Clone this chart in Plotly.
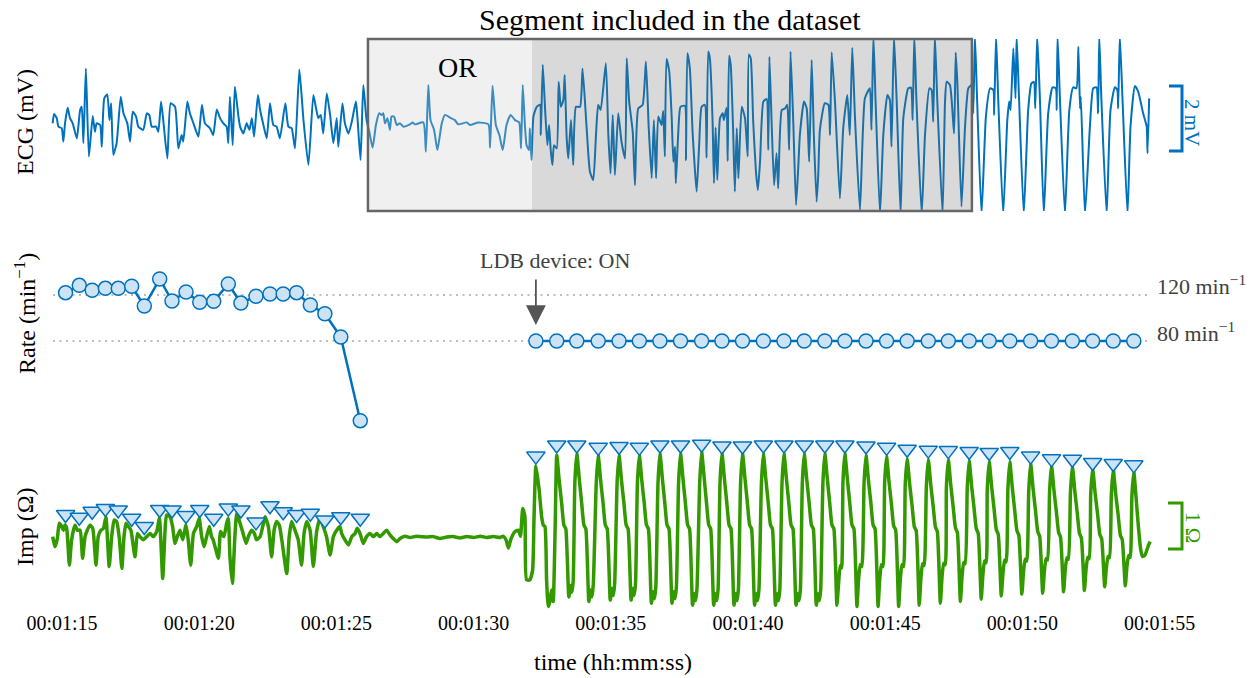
import plotly.graph_objects as go

# ------------------------------------------------------------------ data
tick_seconds = [75, 80, 85, 90, 95, 100, 105, 110, 115]
tick_labels = ["00:01:15", "00:01:20", "00:01:25", "00:01:30", "00:01:35",
               "00:01:40", "00:01:45", "00:01:50", "00:01:55"]

# ECG trace (seconds, mV)
ecg_t = [
    74.66, 74.71, 74.81, 74.87, 74.99, 75.05, 75.11, 75.21, 75.29, 75.39,
    75.54, 75.66, 75.72, 75.78, 75.87, 75.98, 76.12, 76.20, 76.26, 76.39,
    76.45, 76.54, 76.65, 76.73, 76.79, 76.87, 76.99, 77.14, 77.24, 77.38,
    77.48, 77.58, 77.70, 77.78, 77.96, 78.09, 78.18, 78.27, 78.43, 78.51,
    78.61, 78.69, 78.84, 78.96, 79.12, 79.24, 79.36, 79.42, 79.57, 79.66,
    79.79, 79.97, 80.10, 80.21, 80.39, 80.51, 80.64, 80.76, 80.88, 81.00,
    81.06, 81.12, 81.22, 81.30, 81.43, 81.49, 81.61, 81.73, 81.83, 81.92,
    82.00, 82.14, 82.22, 82.34, 82.46, 82.58, 82.70, 82.82, 82.94, 83.14,
    83.25, 83.37, 83.49, 83.65, 83.80, 83.98, 84.16, 84.26, 84.34, 84.43,
    84.52, 84.65, 84.77, 84.89, 85.01, 85.07, 85.22, 85.31, 85.44, 85.56,
    85.71, 85.76, 85.88, 85.98,
    86.10, 86.20, 86.32, 86.44, 86.56, 86.65, 86.71, 86.77, 86.86, 86.95,
    87.01, 87.10, 87.20, 87.32, 87.44, 87.68, 87.78, 87.86, 88.17, 88.26,
    88.35, 88.43, 88.56, 88.68, 88.84, 88.96, 89.14, 89.32, 89.44, 89.75,
    89.87, 90.17, 90.54, 90.60, 90.69, 90.81, 90.94, 91.06, 91.20, 91.35,
    91.51, 91.66, 91.73, 91.79, 91.87, 91.93, 92.02, 92.05, 92.11, 92.18,
    92.30, 92.42, 92.45, 92.52, 92.61, 92.69, 92.75, 92.81, 92.87, 92.93,
    93.03, 93.10, 93.18, 93.27, 93.32, 93.39, 93.45, 93.55, 93.63, 93.73,
    93.88, 93.97, 94.12, 94.24, 94.36, 94.46, 94.54, 94.63, 94.82, 94.91,
    94.99, 95.07, 95.15, 95.27, 95.39, 95.52, 95.58, 95.67, 95.80, 95.88,
    96.00, 96.16, 96.28, 96.38, 96.49, 96.57, 96.65, 96.73,
    96.85, 96.91, 96.97, 97.03, 97.13, 97.22, 97.28, 97.34, 97.37, 97.46,
    97.54, 97.70, 97.74, 97.79, 97.88, 97.98, 98.07, 98.13, 98.22, 98.31,
    98.43, 98.49, 98.55, 98.61, 98.71, 98.76, 98.82, 98.88, 98.98, 99.08,
    99.12, 99.22, 99.26, 99.31, 99.37, 99.46, 99.52, 99.59, 99.65, 99.77,
    99.89, 99.99, 100.03, 100.10, 100.19, 100.29, 100.36, 100.44, 100.56, 100.68,
    100.74, 100.78, 100.86, 100.95, 101.04, 101.10, 101.23, 101.35, 101.43, 101.50,
    101.55, 101.65, 101.75, 101.83, 101.89, 102.04, 102.14, 102.23, 102.32, 102.40,
    102.50, 102.56, 102.62, 102.80, 102.93, 102.99, 103.05, 103.17, 103.35, 103.47,
    103.62, 103.71, 103.80, 103.90, 104.08, 104.26, 104.44, 104.50, 104.57, 104.65,
    104.81, 104.93, 105.08, 105.17, 105.23, 105.32, 105.42, 105.56, 105.66, 105.84,
    105.94, 106.00, 106.06, 106.14, 106.33, 106.45, 106.61, 106.69, 106.75, 106.81,
    106.90, 107.09, 107.18, 107.24, 107.36,
    107.51, 107.57, 107.63, 107.78, 107.91, 108.03, 108.15, 108.21, 108.27, 108.35,
    108.51, 108.67, 108.82, 108.94, 108.97, 109.04, 109.12, 109.30, 109.45, 109.52,
    109.57, 109.67, 109.75, 109.79, 109.88, 110.05, 110.21, 110.33, 110.42, 110.47,
    110.54, 110.64, 110.78, 110.94, 111.10, 111.22, 111.25, 111.28, 111.37, 111.55,
    111.71, 111.85, 111.97, 112.04, 112.10, 112.13, 112.28, 112.46, 112.58, 112.70,
    112.76, 112.80, 112.88, 113.07, 113.21, 113.37, 113.46, 113.49, 113.55, 113.65,
    113.83, 113.94, 114.10, 114.22, 114.40, 114.53, 114.56, 114.62,
]
ecg_mv = [
    0.05, 0.34, 0.21, -0.05, -0.10, -0.51, 0.05, 0.53, 0.21, 0.05,
    -0.41, 0.46, 0.56, -0.56, 1.74, -0.97, 0.28, -0.21, 0.05, 0.00,
    -0.67, 0.82, 0.94, 0.15, 0.67, -0.92, -0.56, 0.87, 0.36, 0.05,
    -0.51, 0.41, 0.26, -0.05, -0.15, 0.36, 0.31, -0.05, -0.05, -0.21,
    0.72, 0.15, -1.03, 0.67, 0.56, -0.72, -0.31, -0.51, 0.72, 0.36,
    0.05, -0.36, 0.62, 0.05, -0.10, -0.31, 0.48, 0.21, 0.05, -0.05,
    -0.56, 0.87, -0.62, 1.18, 0.26, -0.05, -0.26, 0.05, -0.15, 0.21,
    -0.36, 0.92, 0.46, 0.00, -0.41, 0.67, 0.00, -0.05, -0.41, 0.67,
    -0.05, -0.10, -0.72, 1.71, 0.15, -1.23, 0.92, 0.51, 0.21, 0.31,
    -0.26, 0.97, 0.31, -0.56, 0.21, -0.67, 0.67, 0.05, -0.26, 0.10,
    0.72, 0.31, -1.08, 1.23,
    0.15, -0.21, -0.70, 0.00, 0.36, 0.31, 0.36, 0.05, 0.21, -0.15,
    0.26, 0.26, 0.00, 0.05, -0.05, 0.02, 0.08, 0.02, 0.08, -0.82,
    1.23, 0.15, -0.15, -0.77, 0.05, 0.31, 0.23, 0.15, 0.02, 0.08,
    0.00, 0.08, 0.02, -0.70, 1.21, 0.00, -0.31, -0.77, 0.00, 0.31,
    0.15, 0.08, -0.72, 1.23, 0.00, -0.62, -0.77, -0.10, -1.08, 0.26,
    0.56, 0.62, -0.31, 1.85, 0.41, -0.62, 0.00, -0.77, -1.23, -0.62,
    -0.72, 1.33, 0.56, 0.77, 1.54, -0.36, -1.03, 0.15, -1.23, 0.56,
    0.56, 1.74, -0.10, -1.44, -1.69, -0.31, 0.62, 0.46, 1.90, -0.31,
    -1.49, 0.31, -1.54, 0.36, -0.51, -1.03, 2.05, 0.72, -0.21, -1.85,
    0.51, 0.62, 1.95, -0.05, -1.64, 0.15, -1.64, 0.26,
    0.00, 0.43, -0.97, 2.03, 1.64, 0.21, -1.13, -0.67, -1.79, -0.21,
    0.56, 0.59, -1.08, 2.21, 1.74, -0.21, -1.44, -2.05, -0.62, 0.56,
    0.62, -1.01, 2.26, 2.05, 0.10, -1.79, -0.08, -1.69, 0.21, 0.36,
    0.15, 0.53, -1.11, 2.13, 1.85, -0.21, -2.05, -0.10, -1.64, 0.56,
    0.21, -0.97, 2.17, 2.05, 0.10, -1.44, -2.00, -1.11, 0.72, 0.80,
    -0.77, 2.10, 0.10, -1.85, -0.87, -1.95, 0.46, 0.51, 0.62, -0.77,
    2.26, 0.10, -2.46, -1.33, -0.31, 0.72, 0.51, -1.13, 2.00, -0.31,
    -2.36, -1.54, -0.15, 0.67, 0.62, -0.31, 2.24, 0.72, -2.26, -0.10,
    0.92, -0.31, 2.38, 0.21, -2.62, 0.82, 1.13, -0.15, 2.75, 0.72,
    -2.75, -0.31, 0.92, 0.77, -0.67, 2.75, 0.72, -2.75, 0.21, 1.13,
    1.15, 0.15, 2.75, 0.72, -2.75, -0.31, 1.13, 1.08, 0.10, 2.75,
    0.72, -2.75, 0.72, 1.33, 1.23,
    -0.26, 2.23, 1.28, -2.51, -0.05, 1.13, 1.23, 0.36, 2.75, 0.77,
    -2.75, 0.26, 1.13, 1.08, 0.31, 2.75, 0.77, -2.75, 0.15, 0.72,
    0.46, 2.36, 0.82, 2.75, 0.77, -2.75, 0.46, 1.28, 1.33, 0.51,
    2.75, 0.77, -2.75, 0.36, 1.16, 1.13, 0.46, 2.75, 0.77, -2.75,
    0.46, 1.16, 1.13, 2.41, 0.51, 0.87, -2.75, -0.05, 1.13, 1.16,
    0.36, 2.75, 0.77, -2.75, 0.46, 1.16, 1.08, 0.51, 2.75, 0.77,
    -2.75, -0.05, 1.20, 1.03, 0.36, -0.05, -0.87, 0.82,
]

# Detected beats before the OR (heart rate, min^-1) and paced beats after LDB on
beat_t_pre = [75.13, 75.63, 76.10, 76.58, 77.05, 77.54, 78.00, 78.56, 79.01, 79.52,
              80.02, 80.53, 81.06, 81.52, 82.07, 82.58, 83.06, 83.55, 84.05, 84.58,
              85.16, 85.87]
rate_pre = [122.0, 128.4, 124.1, 125.8, 125.8, 127.6, 110.4, 133.9, 114.8, 122.6,
            113.7, 114.5, 129.6, 113.0, 118.9, 120.9, 120.9, 122.0, 111.3, 103.7,
            83.5, 10.7]
beat_t_paced = [92.27, 93.03, 93.76, 94.54, 95.30, 96.04, 96.79, 97.54, 98.31, 99.05,
                99.80, 100.56, 101.31, 102.05, 102.80, 103.53, 104.30, 105.05, 105.80, 106.57,
                107.30, 108.06, 108.79, 109.54, 110.30, 111.06, 111.82, 112.56, 113.31, 114.06]
rate_paced = [80, 80, 80, 80, 80, 80, 80, 80, 80, 80,
              80, 80, 80, 80, 80, 80, 80, 80, 80, 80,
              80, 80, 80, 80, 80, 80, 80, 80, 80, 80]
rate_ref_lines = [120, 80]

# Impedance trace (seconds, ohm)
imp_t = [
    74.66, 74.75, 74.83, 74.90, 74.99, 75.05, 75.11, 75.17, 75.27, 75.35,
    75.47, 75.56, 75.66, 75.75, 75.84, 75.92, 76.02, 76.12, 76.24, 76.32,
    76.42, 76.51, 76.60, 76.72, 76.81, 76.90, 76.99, 77.09, 77.18, 77.26,
    77.33, 77.42, 77.51, 77.66, 77.75, 77.84, 77.96, 78.09, 78.21, 78.33,
    78.45, 78.55, 78.67, 78.75, 78.81, 78.94, 79.03, 79.12, 79.20, 79.30,
    79.40, 79.52, 79.60, 79.69, 79.79, 79.91, 80.00, 80.09, 80.18, 80.27,
    80.37, 80.45, 80.51, 80.70, 80.78, 80.90, 81.00, 81.06, 81.12, 81.21,
    81.30, 81.37, 81.49, 81.58, 81.71, 81.79, 81.91, 82.01, 82.09, 82.22,
    82.34, 82.40, 82.52, 82.64, 82.73, 82.82, 82.92, 83.01, 83.19, 83.28,
    83.37, 83.49, 83.61, 83.73, 83.82, 83.92, 84.04, 84.16, 84.28, 84.40,
    84.52, 84.64, 84.77, 84.89, 85.01, 85.13, 85.19, 85.31, 85.44, 85.56,
    85.68, 85.76, 85.86, 85.98, 86.10, 86.22, 86.35, 86.47, 86.59, 86.71,
    86.83, 86.95, 87.07, 87.20, 87.32, 87.50, 87.68, 87.92, 88.30, 88.53,
    88.77, 89.02, 89.26, 89.50, 89.75, 90.00, 90.24, 90.48, 90.72, 90.96,
    91.08, 91.18, 91.27, 91.35, 91.51, 91.63, 91.71, 91.79, 91.87, 91.93,
    92.05, 92.15, 92.20, 92.27, 92.39, 92.48, 92.54, 92.60, 92.66, 92.72,
    92.78, 92.84, 92.90, 92.97,
    93.03, 93.12, 93.21, 93.29, 93.36, 93.47, 93.53, 93.58, 93.63, 93.69,
    93.76, 93.85, 93.94, 94.02, 94.09, 94.20, 94.26, 94.31, 94.36, 94.47,
    94.54, 94.63, 94.72, 94.80, 94.87, 94.98, 95.04, 95.09, 95.14, 95.23,
    95.30, 95.39, 95.48, 95.56, 95.63, 95.74, 95.80, 95.85, 95.90, 95.97,
    96.04, 96.13, 96.22, 96.30, 96.37, 96.48, 96.54, 96.59, 96.64, 96.72,
    96.79, 96.88, 96.97, 97.05, 97.12, 97.23, 97.29, 97.34, 97.39, 97.47,
    97.54, 97.63, 97.72, 97.80, 97.87, 97.98, 98.04, 98.09, 98.14, 98.24,
    98.31, 98.40, 98.49, 98.57, 98.64, 98.75, 98.81, 98.86, 98.91, 98.98,
    99.05, 99.14, 99.23, 99.31, 99.38, 99.49, 99.55, 99.60, 99.65, 99.73,
    99.80, 99.89, 99.98, 100.06, 100.13, 100.24, 100.30, 100.35, 100.40, 100.49,
    100.56, 100.65, 100.74, 100.82, 100.89, 101.00, 101.06, 101.11, 101.16, 101.24,
    101.31, 101.40, 101.49, 101.57, 101.64, 101.75, 101.81, 101.86, 101.91, 101.98,
    102.05, 102.14, 102.23, 102.31, 102.38, 102.49, 102.55, 102.60, 102.65, 102.73,
    102.80, 102.89, 102.98, 103.06, 103.13, 103.24, 103.30, 103.36, 103.41, 103.46,
    103.53, 103.62, 103.71, 103.79, 103.86, 103.97, 104.03, 104.09, 104.15, 104.23,
    104.30, 104.39, 104.48, 104.56, 104.63, 104.74, 104.80, 104.86, 104.92, 104.98,
    105.05, 105.14, 105.23, 105.31, 105.38, 105.49, 105.55, 105.61, 105.67, 105.73,
    105.80, 105.89, 105.98, 106.06, 106.13, 106.24, 106.30, 106.36, 106.42, 106.50,
    106.57, 106.66, 106.75, 106.83, 106.90, 107.01, 107.07, 107.13, 107.19, 107.23,
    107.30, 107.39, 107.48, 107.56, 107.63, 107.74, 107.80, 107.86, 107.92, 107.99,
    108.06, 108.15, 108.24, 108.32, 108.39, 108.50, 108.56, 108.62, 108.68, 108.72,
    108.79, 108.88, 108.97, 109.05, 109.12, 109.23, 109.29, 109.35, 109.41, 109.47,
    109.54, 109.63, 109.72, 109.80, 109.87, 109.98, 110.04, 110.10, 110.16, 110.23,
    110.30, 110.39, 110.48, 110.56, 110.63, 110.74, 110.80, 110.86, 110.92, 110.99,
    111.06, 111.15, 111.24, 111.32, 111.39, 111.50, 111.56, 111.62, 111.68, 111.75,
    111.82, 111.91, 112.00, 112.08, 112.15, 112.26, 112.32, 112.38, 112.44, 112.49,
    112.56, 112.65, 112.74, 112.82, 112.89, 113.00, 113.06, 113.12, 113.18, 113.24,
    113.31, 113.40, 113.49, 113.57, 113.64, 113.75, 113.81, 113.87, 113.93, 113.99,
    114.06, 114.14, 114.22, 114.30, 114.37, 114.46, 114.60, 114.66,
]
imp_ohm = [
    0.03, -0.19, -0.01, 0.32, 0.25, 0.17, 0.28, 0.21, -0.59, -0.04,
    0.28, 0.17, 0.17, -0.44, 0.03, 0.17, 0.28, 0.21, -0.59, 0.03,
    0.17, 0.21, 0.45, -0.62, 0.03, 0.39, 0.36, -0.01, -0.66, 0.03,
    0.32, 0.25, 0.17, -0.41, 0.10, 0.03, -0.04, 0.03, 0.10, 0.03,
    0.14, 0.43, -0.88, 0.10, 0.50, 0.46, 0.25, -0.12, 0.03, 0.17,
    -0.04, 0.28, -0.04, -0.59, 0.10, 0.25, 0.43, 0.03, -0.19, 0.03,
    0.25, 0.03, -0.04, -0.44, 0.14, 0.03, 0.32, 0.43, -0.41, -0.99,
    0.03, 0.54, 0.32, 0.14, -0.12, 0.03, 0.17, 0.10, -0.04, 0.03,
    0.32, 0.46, 0.25, -0.41, 0.17, 0.36, 0.28, -0.04, -0.77, 0.03,
    0.36, 0.17, -0.04, -0.59, 0.10, 0.36, 0.17, -0.62, 0.14, 0.43,
    0.25, 0.03, -0.37, 0.03, 0.17, 0.25, 0.10, -0.04, -0.15, 0.03,
    0.10, 0.21, 0.10, -0.12, 0.03, 0.10, 0.03, 0.10, 0.03, 0.10,
    0.17, 0.07, -0.01, -0.08, -0.01, 0.04, 0.01, 0.04, 0.02, 0.03,
    -0.01, 0.02, 0.03, 0.00, 0.03, 0.01, 0.04, 0.01, 0.03, 0.01,
    0.04, -0.04, -0.22, -0.04, 0.14, 0.17, 0.04, 0.64, 0.46, -0.91,
    -0.91, -0.70, 0.39, 1.57, 1.04, 0.46, 0.28, 0.25, -0.91, -1.49,
    -1.38, -1.13, -1.38, 0.17,
    1.80, 1.25, 0.75, 0.28, 0.20, -1.28, -1.03, -1.18, -0.93, 1.20,
    1.84, 1.29, 0.75, 0.28, 0.20, -1.38, -1.13, -1.28, -1.03, 1.20,
    1.80, 1.25, 0.75, 0.28, 0.20, -1.35, -1.10, -1.25, -1.00, 1.20,
    1.80, 1.25, 0.75, 0.28, 0.20, -1.35, -1.10, -1.25, -1.00, 1.20,
    1.80, 1.25, 0.75, 0.28, 0.20, -1.42, -1.17, -1.32, -1.07, 1.20,
    1.84, 1.29, 0.75, 0.28, 0.20, -1.42, -1.17, -1.32, -1.07, 1.20,
    1.84, 1.29, 0.75, 0.28, 0.20, -1.46, -1.21, -1.36, -1.11, 1.20,
    1.88, 1.33, 0.75, 0.28, 0.20, -1.46, -1.21, -1.36, -1.11, 1.20,
    1.84, 1.29, 0.75, 0.28, 0.20, -1.46, -1.21, -1.36, -1.11, 1.20,
    1.84, 1.29, 0.75, 0.28, 0.20, -1.46, -1.21, -1.36, -1.11, 1.20,
    1.83, 1.28, 0.75, 0.28, 0.20, -1.46, -1.21, -1.36, -1.11, 1.20,
    1.84, 1.29, 0.75, 0.28, 0.20, -1.46, -1.21, -1.36, -1.11, 1.20,
    1.83, 1.28, 0.75, 0.28, 0.20, -1.46, -1.21, -1.36, -1.11, 1.20,
    1.84, 1.29, 0.75, 0.28, 0.20, -1.46, -1.00, -0.60, -0.65, 1.20,
    1.84, 1.29, 0.75, 0.28, 0.20, -1.49, -0.90, -0.58, -0.62, 1.20,
    1.80, 1.25, 0.75, 0.28, 0.20, -1.49, -0.90, -0.58, -0.62, 1.20,
    1.77, 1.22, 0.72, 0.26, 0.18, -1.49, -0.90, -0.58, -0.62, 1.15,
    1.73, 1.18, 0.70, 0.25, 0.16, -1.46, -0.88, -0.56, -0.60, 1.12,
    1.71, 1.16, 0.68, 0.24, 0.14, -1.42, -0.86, -0.55, -0.58, 1.10,
    1.70, 1.15, 0.66, 0.22, 0.12, -1.38, -0.84, -0.53, -0.56, 1.08,
    1.68, 1.13, 0.64, 0.20, 0.10, -1.33, -0.80, -0.50, -0.54, 1.06,
    1.66, 1.11, 0.62, 0.18, 0.08, -1.26, -0.78, -0.48, -0.52, 1.04,
    1.66, 1.11, 0.60, 0.16, 0.06, -1.22, -0.75, -0.46, -0.50, 1.02,
    1.62, 1.07, 0.58, 0.14, 0.04, -1.20, -0.73, -0.45, -0.48, 1.00,
    1.59, 1.04, 0.56, 0.12, 0.02, -1.17, -0.70, -0.43, -0.46, 0.98,
    1.57, 1.02, 0.54, 0.10, 0.00, -1.14, -0.68, -0.42, -0.45, 0.95,
    1.51, 0.98, 0.52, 0.08, -0.02, -1.06, -0.65, -0.40, -0.43, 0.92,
    1.49, 0.96, 0.50, 0.06, -0.04, -1.04, -0.62, -0.38, -0.42, 0.90,
    1.44, 0.90, 0.30, -0.20, -0.40, -0.38, -0.15, -0.08,
]

# Beat markers drawn on the impedance panel (ohm)
imp_mark_pre = [0.51, 0.45, 0.58, 0.64, 0.61, 0.43, 0.25, 0.62, 0.61, 0.49,
                0.62, 0.43, 0.65, 0.61, 0.35, 0.70, 0.57, 0.51, 0.54, 0.39,
                0.46, 0.43]
imp_mark_paced = [1.78, 2.02, 2.02, 1.97, 1.99, 1.97, 2.02, 2.02, 2.04, 2.00,
                  2.00, 2.02, 2.02, 2.02, 2.02, 2.02, 2.00, 1.97, 1.93, 1.91,
                  1.90, 1.88, 1.86, 1.88, 1.78, 1.72, 1.71, 1.64, 1.62, 1.59]

# Segment boundaries (seconds)
seg_start, ldb_on, seg_end = 86.15, 92.13, 108.16

# ------------------------------------------------------------------ style
W, H = 1260, 678
FONT = "Liberation Serif"
BLUE = "#0072BD"
GREEN = "#339900"
LIGHT = "#CCE3F5"


def py(p):
    return 1 - p / H


def px(p):
    return p / W


fig = go.Figure()

fig.add_trace(go.Scatter(x=ecg_t, y=ecg_mv, mode="lines",
                         line=dict(color=BLUE, width=2, shape="spline", smoothing=0.5),
                         xaxis="x", yaxis="y", hoverinfo="skip"))

for tt, rr in ((beat_t_pre, rate_pre), (beat_t_paced, rate_paced)):
    fig.add_trace(go.Scatter(x=tt, y=rr, mode="lines+markers", xaxis="x", yaxis="y2",
                             line=dict(color=BLUE, width=2.5),
                             marker=dict(symbol="circle", size=14, color=LIGHT,
                                         line=dict(color=BLUE, width=1.5)),
                             cliponaxis=False))

fig.add_trace(go.Scatter(x=imp_t, y=imp_ohm, mode="lines", xaxis="x", yaxis="y3",
                         line=dict(color=GREEN, width=3.5, shape="spline", smoothing=0.5)))

for tt, mm in ((beat_t_pre, imp_mark_pre), (beat_t_paced, imp_mark_paced)):
    fig.add_trace(go.Scatter(x=tt, y=mm, mode="markers", xaxis="x", yaxis="y3",
                             marker=dict(symbol="triangle-down", size=16, color=LIGHT,
                                         line=dict(color=BLUE, width=1.5)),
                             cliponaxis=False))

shapes = [
    dict(type="rect", xref="x", yref="y domain", x0=seg_start, x1=ldb_on, y0=0, y1=1,
         fillcolor="rgb(203,203,203)", opacity=0.29, line=dict(width=0), layer="above"),
    dict(type="rect", xref="x", yref="y domain", x0=ldb_on, x1=seg_end, y0=0, y1=1,
         fillcolor="rgb(110,110,110)", opacity=0.26, line=dict(width=0), layer="above"),
    dict(type="rect", xref="x", yref="y domain", x0=seg_start, x1=seg_end, y0=0, y1=1,
         fillcolor="rgba(0,0,0,0)", line=dict(color="#666666", width=2.5), layer="above"),
    # 2 mV scale bar
    dict(type="path", xref="paper", yref="y",
         path=f"M {px(1169)},1.2 L {px(1182)},1.2 L {px(1182)},-0.8 L {px(1169)},-0.8",
         line=dict(color=BLUE, width=3)),
    # 1 ohm scale bar
    dict(type="path", xref="paper", yref="y3",
         path=f"M {px(1168)},0.76 L {px(1182)},0.76 L {px(1182)},-0.24 L {px(1168)},-0.24",
         line=dict(color=GREEN, width=3)),
]
for r in rate_ref_lines:
    shapes.append(dict(type="line", xref="paper", yref="y2", x0=px(53), x1=px(1150),
                       y0=r, y1=r, line=dict(color="#A8A8A8", width=1.5, dash="2px,4.5px"),
                       layer="below"))

annotations = [
    dict(text="Segment included in the dataset", x=px(670), y=py(20), size=30),
    dict(text="OR", x=px(457), y=py(68), size=28),
    dict(text="ECG (mV)", x=px(25), y=py(122), size=24, textangle=-90),
    dict(text="Rate (min<sup>−1</sup>)", x=px(25), y=py(314), size=24, textangle=-90),
    dict(text="Imp (Ω)", x=px(25), y=py(527), size=24, textangle=-90),
    dict(text="time (hh:mm:ss)", x=px(613), y=py(662), size=24),
    dict(text="LDB device: ON", x=px(555), y=py(260), size=22, color="#404040"),
    dict(text="2 mV", x=px(1192), y=py(122), size=21, color=BLUE, textangle=90),
    dict(text="1 Ω", x=px(1193), y=py(527), size=21, color=GREEN, textangle=90),
]
ann = []
for a in annotations:
    ann.append(dict(text=a["text"], x=a["x"], y=a["y"], xref="paper", yref="paper",
                    xanchor="center", yanchor="middle", showarrow=False,
                    textangle=a.get("textangle", 0),
                    font=dict(family=FONT, size=a["size"], color=a.get("color", "#000000"))))
for r, yy in zip(rate_ref_lines, (285, 332)):
    ann.append(dict(text=f"{r} min<sup>−1</sup>", x=px(1155), y=py(yy), xref="paper",
                    yref="paper", xanchor="left", yanchor="middle", showarrow=False,
                    font=dict(family=FONT, size=22, color="#404040")))
ann.append(dict(text="", x=beat_t_paced[0], y=rate_paced[0], xref="x", yref="y2",
                showarrow=True, ax=0, ay=-63, axref="pixel", ayref="pixel",
                arrowhead=2, arrowsize=2.2, arrowwidth=1.8, arrowcolor="#555555",
                standoff=16))

fig.update_layout(
    width=W, height=H, margin=dict(l=0, r=0, t=0, b=0),
    paper_bgcolor="white", plot_bgcolor="white", showlegend=False,
    font=dict(family=FONT, color="#000000"),
    xaxis=dict(range=[72.7405, 118.659], tickvals=tick_seconds, ticktext=tick_labels,
               tickfont=dict(family=FONT, size=20, color="#000000"),
               showgrid=False, zeroline=False, showline=False, ticks="",
               anchor="free", position=py(609)),
    yaxis=dict(domain=[py(211), py(39)], range=[-2.646, 2.646], visible=False,
               anchor="x"),
    yaxis2=dict(domain=[py(430), py(250)], range=[2.61, 159.13], visible=False,
                anchor="x"),
    yaxis3=dict(domain=[py(615), py(435)], range=[-1.674, 2.239], visible=False,
                anchor="x"),
    shapes=shapes, annotations=ann,
)

fig.write_html("out.html", config={"displayModeBar": False},
               post_script="document.body.style.margin='0';document.body.style.padding='0';")
